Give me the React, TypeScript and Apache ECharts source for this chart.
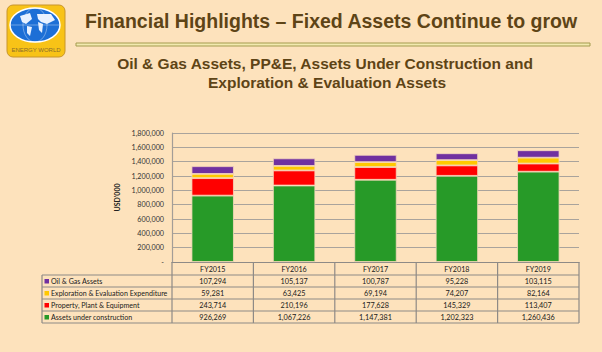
import React, { useEffect, useRef } from "react";
import * as echarts from "echarts";

const categories = ["FY2015", "FY2016", "FY2017", "FY2018", "FY2019"];
const oilGasAssets = [107294, 105137, 100787, 95228, 103115];
const explorationAssets = [59281, 63425, 69194, 74207, 82164];
const ppeAssets = [243714, 210196, 177628, 145329, 113407];
const constructionAssets = [926269, 1067226, 1147381, 1202323, 1260436];

const seriesNames = [
  "Oil & Gas Assets",
  "Exploration & Evaluation Expenditure",
  "Property, Plant & Equipment",
  "Assets under construction",
];
const seriesColors = ["#7030a0", "#ffc800", "#ff0000", "#279a28"];
const tableRows = [oilGasAssets, explorationAssets, ppeAssets, constructionAssets];

const yMax = 1800000;
const yInterval = 200000;

const fmt = (n: number) => n.toLocaleString("en-US");

export default function App() {
  const ref = useRef<HTMLDivElement>(null);
  useEffect(() => {
    if (!ref.current) return;
    const chart = echarts.init(ref.current, null, { renderer: "svg" });

    const gridLeft = 172;
    const gridRight = 579;
    const gridTop = 133;
    const gridBottom = 262;
    const colW = (gridRight - gridLeft) / categories.length;
    const rowYs = [262, 275, 287, 299, 311, 323];
    const tableLeft = 42;
    const lineColor = "#8e8a86";
    const textFont = "Lato, 'Open Sans', sans-serif";
    const titleFont = "'Liberation Sans', Arial, sans-serif";

    const graphics: any[] = [];

    // Logo
    graphics.push({
      type: "rect",
      shape: { x: 7, y: 5, width: 58, height: 52, r: 6 },
      style: { fill: "#f8c317", stroke: "#c8952a", lineWidth: 1 },
    });
    graphics.push({
      type: "ellipse",
      shape: { cx: 35, cy: 25, rx: 25, ry: 17 },
      style: { fill: "#1d6fd6", stroke: "#ffffff", lineWidth: 1.5 },
    });
    graphics.push({
      type: "ellipse",
      shape: { cx: 35, cy: 25, rx: 12, ry: 17 },
      style: { fill: "none", stroke: "rgba(255,255,255,0.6)", lineWidth: 0.6 },
    });
    graphics.push({
      type: "line",
      shape: { x1: 10, y1: 25, x2: 60, y2: 25 },
      style: { stroke: "rgba(255,255,255,0.6)", lineWidth: 0.6 },
    });
    graphics.push({
      type: "polygon",
      shape: { points: [[20, 16], [30, 13], [32, 19], [26, 24], [22, 22]] },
      style: { fill: "#e8f1ff" },
    });
    graphics.push({
      type: "polygon",
      shape: { points: [[27, 26], [32, 27], [30, 36], [27, 33]] },
      style: { fill: "#e8f1ff" },
    });
    graphics.push({
      type: "polygon",
      shape: { points: [[37, 14], [51, 14], [55, 20], [47, 24], [41, 22], [38, 19]] },
      style: { fill: "#e8f1ff" },
    });
    graphics.push({
      type: "polygon",
      shape: { points: [[38, 22], [43, 24], [42, 33], [39, 30]] },
      style: { fill: "#e8f1ff" },
    });
    graphics.push({
      type: "text",
      x: 36,
      y: 50,
      style: {
        text: "ENERGY WORLD",
        fontSize: 6,
        fontFamily: titleFont,
        fill: "#8a6d2c",
        align: "center",
        verticalAlign: "middle",
      },
    });

    // Title
    graphics.push({
      type: "text",
      x: 331,
      y: 21,
      style: {
        text: "Financial Highlights \u2013 Fixed Assets Continue to grow",
        fontSize: 19.5,
        fontWeight: "bold",
        fontFamily: titleFont,
        fill: "#5e4416",
        align: "center",
        verticalAlign: "middle",
      },
    });
    graphics.push({
      type: "rect",
      shape: { x: 76, y: 43, width: 514, height: 3 },
      style: { fill: "#f2eab0", stroke: "#a49b4e", lineWidth: 1 },
    });
    graphics.push({
      type: "text",
      x: 325,
      y: 63,
      style: {
        text: "Oil & Gas Assets, PP&E, Assets Under Construction and",
        fontSize: 15.5,
        fontWeight: "bold",
        fontFamily: titleFont,
        fill: "#5e4416",
        align: "center",
        verticalAlign: "middle",
      },
    });
    graphics.push({
      type: "text",
      x: 327,
      y: 82,
      style: {
        text: "Exploration & Evaluation Assets",
        fontSize: 15.5,
        fontWeight: "bold",
        fontFamily: titleFont,
        fill: "#5e4416",
        align: "center",
        verticalAlign: "middle",
      },
    });

    // Table lines
    for (let r = 1; r < rowYs.length; r++) {
      graphics.push({
        type: "line",
        shape: { x1: tableLeft, y1: rowYs[r], x2: gridRight, y2: rowYs[r] },
        style: { stroke: lineColor, lineWidth: 1.2 },
      });
    }
    graphics.push({
      type: "line",
      shape: { x1: tableLeft, y1: rowYs[1], x2: tableLeft, y2: rowYs[rowYs.length - 1] },
      style: { stroke: lineColor, lineWidth: 1.2 },
    });
    for (let c = 0; c <= categories.length; c++) {
      const x = gridLeft + c * colW;
      graphics.push({
        type: "line",
        shape: { x1: x, y1: rowYs[0], x2: x, y2: rowYs[rowYs.length - 1] },
        style: { stroke: lineColor, lineWidth: 1.2 },
      });
    }
    // Header texts
    categories.forEach((cat, c) => {
      graphics.push({
        type: "text",
        x: gridLeft + (c + 0.5) * colW,
        y: (rowYs[0] + rowYs[1]) / 2 + 0.5,
        style: {
          text: cat,
          fontSize: 7.2,
          fontFamily: textFont,
          fill: "#1a1a1a",
          align: "center",
          verticalAlign: "middle",
        },
      });
    });
    // Row labels and values
    seriesNames.forEach((name, r) => {
      const yc = (rowYs[r + 1] + rowYs[r + 2]) / 2 + 0.5;
      graphics.push({
        type: "rect",
        shape: { x: 44.5, y: yc - 2.5, width: 4.5, height: 4.5 },
        style: { fill: seriesColors[r] },
      });
      graphics.push({
        type: "text",
        x: 51,
        y: yc,
        style: {
          text: name,
          fontSize: 7.1,
          fontFamily: textFont,
          fill: "#1a1a1a",
          align: "left",
          verticalAlign: "middle",
        },
      });
      tableRows[r].forEach((v, c) => {
        graphics.push({
          type: "text",
          x: gridLeft + (c + 0.5) * colW,
          y: yc,
          style: {
            text: fmt(v),
            fontSize: 7.3,
            fontFamily: textFont,
            fill: "#1a1a1a",
            align: "center",
            verticalAlign: "middle",
          },
        });
      });
    });

    // stacked series, bottom to top
    const stackOrder = [3, 2, 1, 0];
    const series = stackOrder.map((i) => ({
      name: seriesNames[i],
      type: "bar",
      stack: "total",
      barWidth: "52%",
      data: tableRows[i],
      itemStyle: {
        color: seriesColors[i],
        borderColor: "#f6d8bd",
        borderWidth: 0.8,
      },
    }));

    chart.setOption({
      animation: false,
      backgroundColor: "#fde2bc",
      grid: {
        left: gridLeft,
        right: 602 - gridRight,
        top: gridTop,
        bottom: 352 - gridBottom,
        containLabel: false,
      },
      xAxis: {
        type: "category",
        data: categories,
        axisLine: { show: true, lineStyle: { color: lineColor, width: 1.2 } },
        axisTick: { show: false },
        axisLabel: { show: false },
      },
      yAxis: {
        type: "value",
        min: 0,
        max: yMax,
        interval: yInterval,
        name: "USD'000",
        nameLocation: "middle",
        nameGap: 45,
        nameRotate: 90,
        nameTextStyle: {
          fontSize: 7,
          fontWeight: "bold",
          fontFamily: textFont,
          color: "#222",
        },
        axisLine: { show: true, lineStyle: { color: "#a39d97", width: 1.2 } },
        axisTick: { show: false },
        splitLine: { lineStyle: { color: "#a9a39c", width: 1.2 } },
        axisLabel: {
          fontSize: 7.2,
          fontFamily: textFont,
          color: "#333",
          margin: 8,
          formatter: (v: number) => (v === 0 ? "-" : fmt(v)),
        },
      },
      graphic: graphics,
      series,
    });
    return () => chart.dispose();
  }, []);
  return (
    <div
      ref={ref}
      style={{ position: "fixed", left: 0, top: 0, width: 602, height: 352 }}
    />
  );
}
